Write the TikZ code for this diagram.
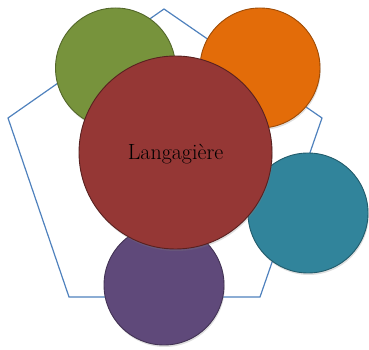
\documentclass[tikz,border=0pt]{standalone}
\usetikzlibrary{shadows}
\definecolor{penta}{HTML}{4F81BD}
\definecolor{greenfill}{HTML}{77933C}
\definecolor{orangefill}{HTML}{E36C09}
\definecolor{tealfill}{HTML}{31849B}
\definecolor{purplefill}{HTML}{5F497A}
\definecolor{redfill}{HTML}{953735}
\tikzset{
  ball/.style={circle, inner sep=0pt, line width=0.9pt,
    drop shadow={shadow xshift=0.8pt, shadow yshift=-2pt, opacity=0.25}},
}
\begin{document}
\begin{tikzpicture}[x=1pt, y=1pt]
    \useasboundingbox (0,0) rectangle (369,350);
    % coordinates for the pentagon
    \coordinate (top)          at (164, 341);
    \coordinate (right)        at (322, 232);
    \coordinate (bottomright)  at (260,  53);
    \coordinate (bottomleft)   at ( 69,  53);
    \coordinate (left)         at (  8, 232);
    \draw[penta, line width=1.2pt] (top) -- (right) -- (bottomright) -- (bottomleft) -- (left) -- cycle;
    % outer circles
    \node[ball, minimum size=120pt, fill=greenfill,  draw=greenfill!70!black]  (green)  at (115.5, 282) {};
    \node[ball, minimum size=120pt, fill=orangefill, draw=orangefill!70!black] (orange) at (260,   282) {};
    \node[ball, minimum size=120pt, fill=tealfill,   draw=tealfill!70!black]   (teal)   at (308,   137) {};
    \node[ball, minimum size=120pt, fill=purplefill, draw=purplefill!70!black] (purple) at (164,    65) {};
    % center circle
    \node[ball, minimum size=193pt, fill=redfill, draw=redfill!60!black] (center) at (175.5, 197.5) {};
    \node[font=\fontsize{22}{26}\selectfont, inner sep=0pt] (label) at (175.5, 196) {Langagière};
  \end{tikzpicture}
\end{document}
